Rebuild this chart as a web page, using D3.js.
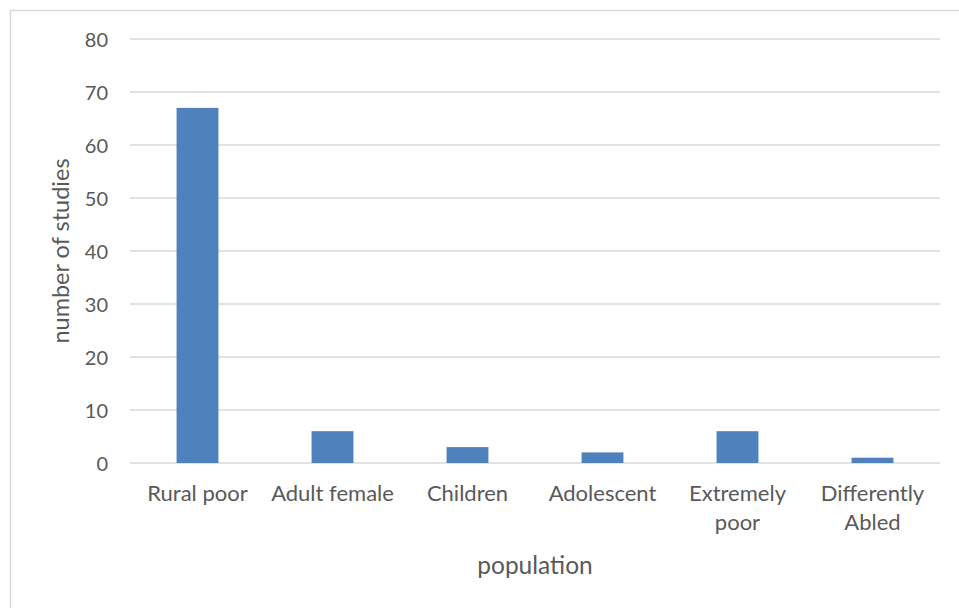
<!DOCTYPE html>
<html>
<head>
<meta charset="utf-8">
<script src="https://cdn.jsdelivr.net/npm/d3@7"></script>
<style>
  html, body { margin: 0; padding: 0; background: #fff; }
  svg { display: block; }
  text { font-family: Lato, "Open Sans", sans-serif; fill: #595959; }
</style>
</head>
<body>
<svg id="chart" width="959" height="608"></svg>
<script>
// Number of studies by target population
const categories = [["Rural poor"], ["Adult female"], ["Children"], ["Adolescent"], ["Extremely", "poor"], ["Differently", "Abled"]];
const studies = [67, 6, 3, 2, 6, 1];
const yTicks = [0, 10, 20, 30, 40, 50, 60, 70, 80];

const svg = d3.select("#chart");
const W = 959, H = 608;
const plot = { left: 130, right: 940, top: 39, bottom: 463 };

// chart frame
svg.append("rect")
  .attr("x", 10.5).attr("y", 10.5)
  .attr("width", W + 20).attr("height", H + 20)
  .attr("fill", "none").attr("stroke", "#d9d9d9").attr("stroke-width", 1.5);

const x = d3.scaleBand()
  .domain(categories.map(c => c.join(" ")))
  .range([plot.left, plot.right])
  .paddingInner(0.69).paddingOuter(0.345);

const y = d3.scaleLinear().domain([0, 80]).range([plot.bottom, plot.top]);

// gridlines
svg.append("g")
  .selectAll("line").data(yTicks).join("line")
  .attr("x1", plot.left).attr("x2", plot.right)
  .attr("y1", d => y(d)).attr("y2", d => y(d))
  .attr("stroke", "#d9d9d9").attr("stroke-width", 1.3);

// y axis labels
const yAxis = d3.axisLeft(y).tickValues(yTicks).tickSize(0).tickPadding(0);
const gy = svg.append("g").attr("transform", `translate(${plot.left - 22},0)`).call(yAxis);
gy.select(".domain").remove();
gy.selectAll("text").attr("font-size", 20).attr("fill", "#595959")
  .style("font-family", 'Lato, "Open Sans", sans-serif').attr("dy", "0.35em");

// bars
svg.append("g")
  .selectAll("rect").data(studies).join("rect")
  .attr("x", (d, i) => x(categories[i].join(" ")))
  .attr("width", x.bandwidth())
  .attr("y", d => y(d))
  .attr("height", d => y(0) - y(d))
  .attr("fill", "#4f81bd");

// category labels (wrapped)
const xl = svg.append("g");
categories.forEach((lines, i) => {
  const cx = x(lines.join(" ")) + x.bandwidth() / 2;
  const t = xl.append("text")
    .attr("x", cx).attr("y", 501)
    .attr("text-anchor", "middle").attr("font-size", 22);
  lines.forEach((ln, j) => {
    t.append("tspan").attr("x", cx).attr("dy", j === 0 ? 0 : 29).text(ln);
  });
});

// axis titles
svg.append("text")
  .attr("x", (plot.left + plot.right) / 2).attr("y", 574)
  .attr("text-anchor", "middle").attr("font-size", 24.5)
  .text("population");

svg.append("text")
  .attr("transform", `translate(61,${(plot.top + plot.bottom) / 2}) rotate(-90)`)
  .attr("text-anchor", "middle").attr("dy", "0.35em").attr("font-size", 23.5)
  .text("number of studies");
</script>
</body>
</html>
